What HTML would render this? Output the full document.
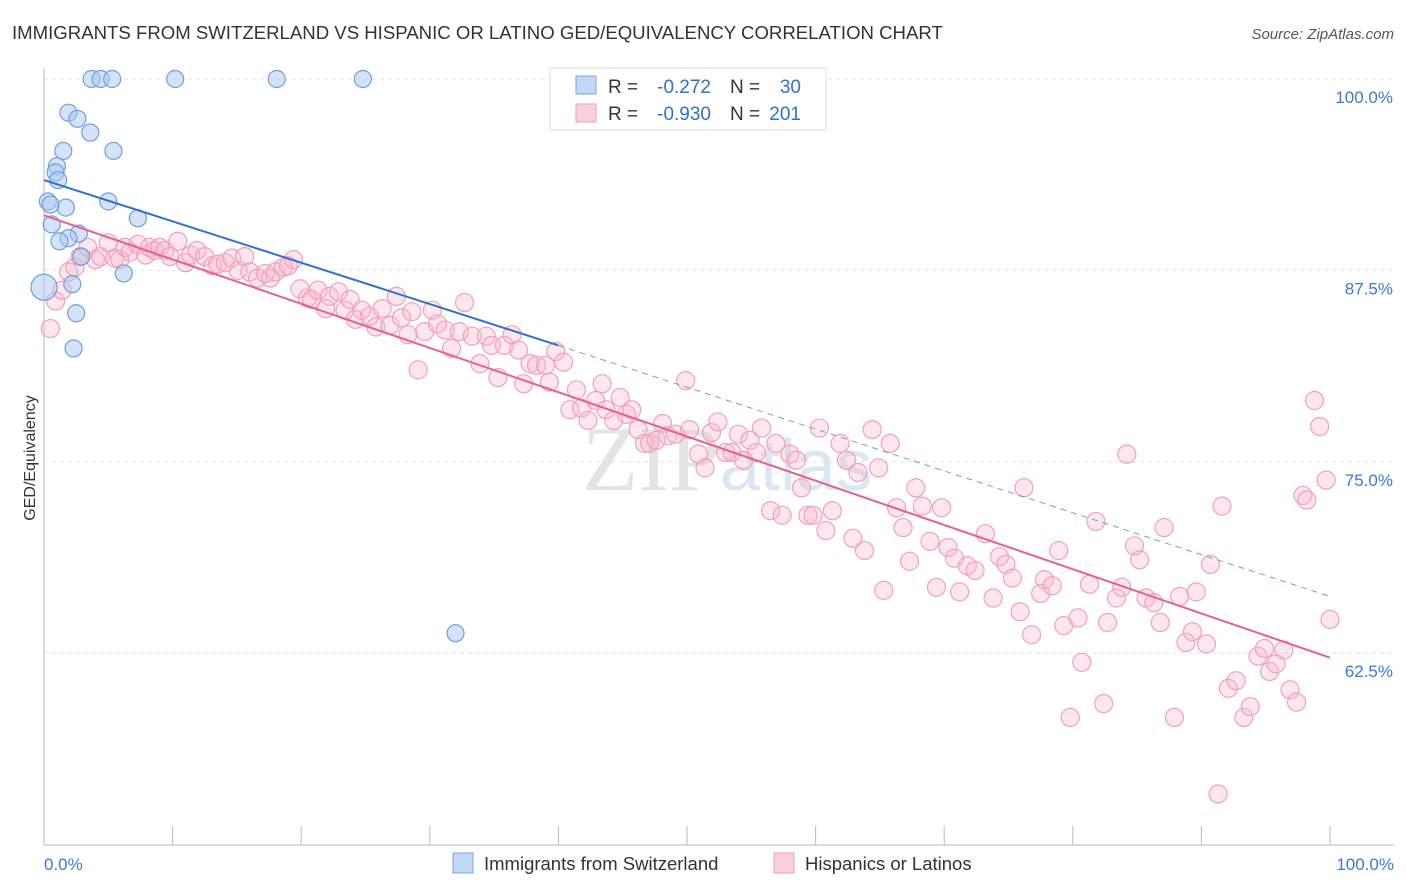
<!DOCTYPE html>
<html><head><meta charset="utf-8"><style>
body{margin:0;background:#fff;font-family:"Liberation Sans",sans-serif}
svg{display:block}
</style></head><body>
<svg id="chart" width="1406" height="892" xmlns="http://www.w3.org/2000/svg">
<text x="12" y="39" font-size="18.6" fill="#333">IMMIGRANTS FROM SWITZERLAND VS HISPANIC OR LATINO GED/EQUIVALENCY CORRELATION CHART</text>
<text x="1394" y="39" font-size="15" fill="#555" font-style="italic" text-anchor="end">Source: ZipAtlas.com</text>
<g id="grid"></g>
<g id="axes"></g>
<text x="720" y="490" font-size="92" fill="#e4e4e4" text-anchor="end" font-family="Liberation Serif,serif">ZIP</text>
<text x="720" y="490" font-size="72" fill="#dbe6f4">atlas</text>
<g id="pink"></g>
<g id="blue"></g>
<g id="lines"></g>
<text x="35" y="458" font-size="16" fill="#333" text-anchor="middle" transform="rotate(-90 35 458)">GED/Equivalency</text>
<g>
<rect x="550" y="68" width="276" height="62" fill="#fff" stroke="#ddd"/>
<rect x="576" y="76" width="20" height="18" fill="#c3d8f5" stroke="#7aa7e0"/>
<rect x="576" y="104" width="20" height="18" fill="#fbd0dd" stroke="#f09ab5"/>
<text x="608" y="93" font-size="19" fill="#333">R =</text>
<text x="711" y="93" font-size="19" fill="#2f6fd6" text-anchor="end">-0.272</text>
<text x="730" y="93" font-size="19" fill="#333">N =</text>
<text x="801" y="93" font-size="19" fill="#2f6fd6" text-anchor="end">30</text>
<text x="608" y="120" font-size="19" fill="#333">R =</text>
<text x="711" y="120" font-size="19" fill="#2f6fd6" text-anchor="end">-0.930</text>
<text x="730" y="120" font-size="19" fill="#333">N =</text>
<text x="801" y="120" font-size="19" fill="#2f6fd6" text-anchor="end">201</text>
</g>
<g>
<rect x="453" y="853" width="20" height="20" fill="#c3d8f5" stroke="#7aa7e0"/>
<text x="484" y="870" font-size="18.5" fill="#333">Immigrants from Switzerland</text>
<rect x="774" y="853" width="20" height="20" fill="#fbd0dd" stroke="#f09ab5"/>
<text x="805" y="870" font-size="18.5" fill="#333">Hispanics or Latinos</text>
</g>
</svg>
<script>
const blueX=[3.7,4.4,5.3,10.2,18.1,24.8,1.9,2.6,3.6,5.4,1.5,1.0,0.9,1.1,5.0,0.3,1.7,7.3,0.6,2.7,1.9,1.2,2.9,6.2,2.2,0,2.5,2.3,32.0,0.5];
const blueY=[100,100,100,100,100,100,97.8,97.4,96.5,95.3,95.3,94.3,93.9,93.4,92.0,92.0,91.6,90.9,90.5,89.9,89.6,89.4,88.4,87.3,86.6,86.4,84.7,82.4,63.8,91.8];
const pinkX=[0.5,0.9,1.4,1.9,2.4,2.8,3.4,4.0,4.4,5.0,5.5,5.9,6.3,6.7,7.3,7.9,8.2,8.6,9.0,9.4,9.8,10.4,11.0,11.4,11.9,12.5,13.1,13.5,14.1,14.6,15.1,15.6,16.0,16.6,17.2,17.6,18.0,18.6,19.0,19.4,19.9,20.5,20.8,21.3,21.9,22.2,22.9,23.4,23.8,24.2,24.7,25.3,25.8,26.3,26.9,27.4,27.8,28.3,28.6,29.1,29.6,30.2,30.6,31.2,31.7,32.3,32.7,33.3,33.9,34.4,34.8,35.3,35.8,36.4,36.9,37.3,37.8,38.3,39.0,39.3,39.8,40.4,40.9,41.4,41.8,42.3,42.9,43.4,43.7,44.3,44.8,45.3,45.7,46.2,46.7,47.1,47.6,48.1,48.5,49.1,49.9,50.2,50.9,51.4,51.9,52.4,53.0,53.5,54.0,54.4,54.9,55.4,55.8,56.5,56.9,57.4,58.0,58.5,58.9,59.4,59.8,60.3,60.8,61.3,61.9,62.4,62.9,63.3,63.8,64.4,64.9,65.3,65.8,66.3,66.8,67.3,67.8,68.3,68.9,69.4,69.8,70.3,70.8,71.2,71.8,72.4,73.2,73.8,74.3,74.8,75.3,75.9,76.2,76.8,77.5,77.8,78.4,78.9,79.3,80.4,80.7,79.8,81.3,81.8,82.4,82.7,83.4,83.8,84.2,84.8,85.2,85.7,86.3,86.8,87.1,87.9,88.3,88.8,89.3,89.6,90.4,90.7,91.3,91.6,92.1,92.7,93.3,93.8,94.4,94.9,95.3,95.8,96.4,96.9,97.4,97.9,98.2,98.8,99.2,99.7,100.0];
const pinkY=[83.7,85.5,86.2,87.4,87.7,88.4,89.0,88.2,88.4,89.3,88.3,88.2,89.0,88.7,89.2,88.5,89.0,88.8,89.0,88.8,88.4,89.4,88.0,88.5,88.8,88.4,87.8,87.9,88.0,88.3,87.5,88.4,87.4,87.0,87.3,87.0,87.4,87.7,87.8,88.2,86.3,85.7,85.6,86.2,85.0,85.8,86.1,84.9,85.6,84.3,84.9,84.5,83.8,85.0,83.9,85.8,84.4,83.3,84.8,81.0,83.5,84.9,84.0,83.6,82.4,83.5,85.4,83.2,81.4,83.2,82.6,80.5,82.6,83.3,82.3,80.1,81.4,81.3,81.3,80.2,82.2,81.5,78.4,79.7,78.5,77.7,79.0,80.1,78.4,77.7,79.2,78.1,78.4,77.1,76.2,76.2,76.4,77.5,76.7,76.8,80.3,77.1,75.5,74.6,76.9,77.6,75.6,75.6,76.8,75.1,76.4,75.6,77.2,71.8,76.2,71.5,75.5,75.1,73.3,71.5,71.5,77.2,70.5,71.8,76.2,75.1,70.0,74.3,69.2,77.1,74.6,66.6,76.2,72.0,70.7,68.5,73.3,72.1,69.8,66.8,72.0,69.4,68.7,66.5,68.2,67.9,70.3,66.1,68.8,68.3,67.4,65.2,73.3,63.7,66.4,67.3,66.9,69.2,64.3,64.8,61.9,58.3,67.0,71.1,59.2,64.5,66.1,66.8,75.5,69.5,68.6,66.1,65.8,64.5,70.7,58.3,66.2,63.2,63.9,66.5,63.1,68.3,53.3,72.1,60.2,60.7,58.3,59.0,62.3,62.8,61.3,61.8,62.7,60.1,59.3,72.8,72.5,79.0,77.3,73.8,64.7];
// trend line endpoints [x0, y0, xSolidEnd, ySolidEnd, xDashEnd, yDashEnd]
const blueTrend=[0,93.4,40,82.6,100,66.2];
const pinkTrend=[0,91.1,100,62.2];
const yTicks=[100,87.5,75,62.5];
const yTickLabels=["100.0%","87.5%","75.0%","62.5%"];
const xTicks=[0,10,20,30,40,50,60,70,80,90,100];

const NS="http://www.w3.org/2000/svg";
const X=v=>44+v*12.86;
const Y=v=>79+(100-v)*15.31;
function mk(tag,attrs,parent){const e=document.createElementNS(NS,tag);for(const k in attrs)e.setAttribute(k,attrs[k]);parent.appendChild(e);return e;}
const grid=document.getElementById('grid'),axes=document.getElementById('axes');
yTicks.forEach((t,i)=>{
  const l=mk('line',{x1:44,x2:1394,y1:Y(t),y2:Y(t),stroke:'#e2e2e2','stroke-dasharray':'4,4'},grid);
  
  
  const tx=mk('text',{x:1393,y:Y(t)+24,'font-size':17,fill:'#3b78d8','text-anchor':'end'},axes);
  tx.textContent=yTickLabels[i];
  
  
});
const ax=mk('line',{x1:44,x2:1394,y1:845,y2:845,stroke:'#bbb'},axes);


const ay=mk('line',{x1:44,x2:44,y1:68,y2:845,stroke:'#bbb'},axes);


xTicks.forEach(t=>{
  const l=mk('line',{x1:X(t),x2:X(t),y1:826,y2:845,stroke:'#bbb'},axes);
  
  
});
[[0,'0.0%','start',44],[100,'100.0%','end',1394]].forEach(a=>{
  const t=mk('text',{x:a[3],y:870,'font-size':17,fill:'#3b78d8','text-anchor':a[2]},axes);
  t.textContent=a[1];
  
  
});
const pg=document.getElementById('pink');
pinkX.forEach((v,i)=>{
  const c=mk('circle',{cx:X(v),cy:Y(pinkY[i]),r:9,fill:'rgba(248,182,204,0.35)',stroke:'#f2a0bb','stroke-width':1.2},pg);
  
  
});
const bg=document.getElementById('blue');
blueX.forEach((v,i)=>{
  const c=mk('circle',{cx:X(v),cy:Y(blueY[i]),r:(i===25?13:8.5),fill:'rgba(170,200,240,0.5)',stroke:'#6e9fe0','stroke-width':1.2},bg);
  
  
});
const lg=document.getElementById('lines');
const bl=mk('line',{x1:X(blueTrend[0]),y1:Y(blueTrend[1]),x2:X(blueTrend[2]),y2:Y(blueTrend[3]),stroke:'#2f6fd6','stroke-width':2},lg);


const bd=mk('line',{x1:X(blueTrend[2]),y1:Y(blueTrend[3]),x2:X(blueTrend[4]),y2:Y(blueTrend[5]),stroke:'#6e9fe0','stroke-width':1,'stroke-dasharray':'6,5'},lg);


const pl=mk('line',{x1:X(pinkTrend[0]),y1:Y(pinkTrend[1]),x2:X(pinkTrend[2]),y2:Y(pinkTrend[3]),stroke:'#e8608e','stroke-width':2},lg);


</script>
</body></html>
